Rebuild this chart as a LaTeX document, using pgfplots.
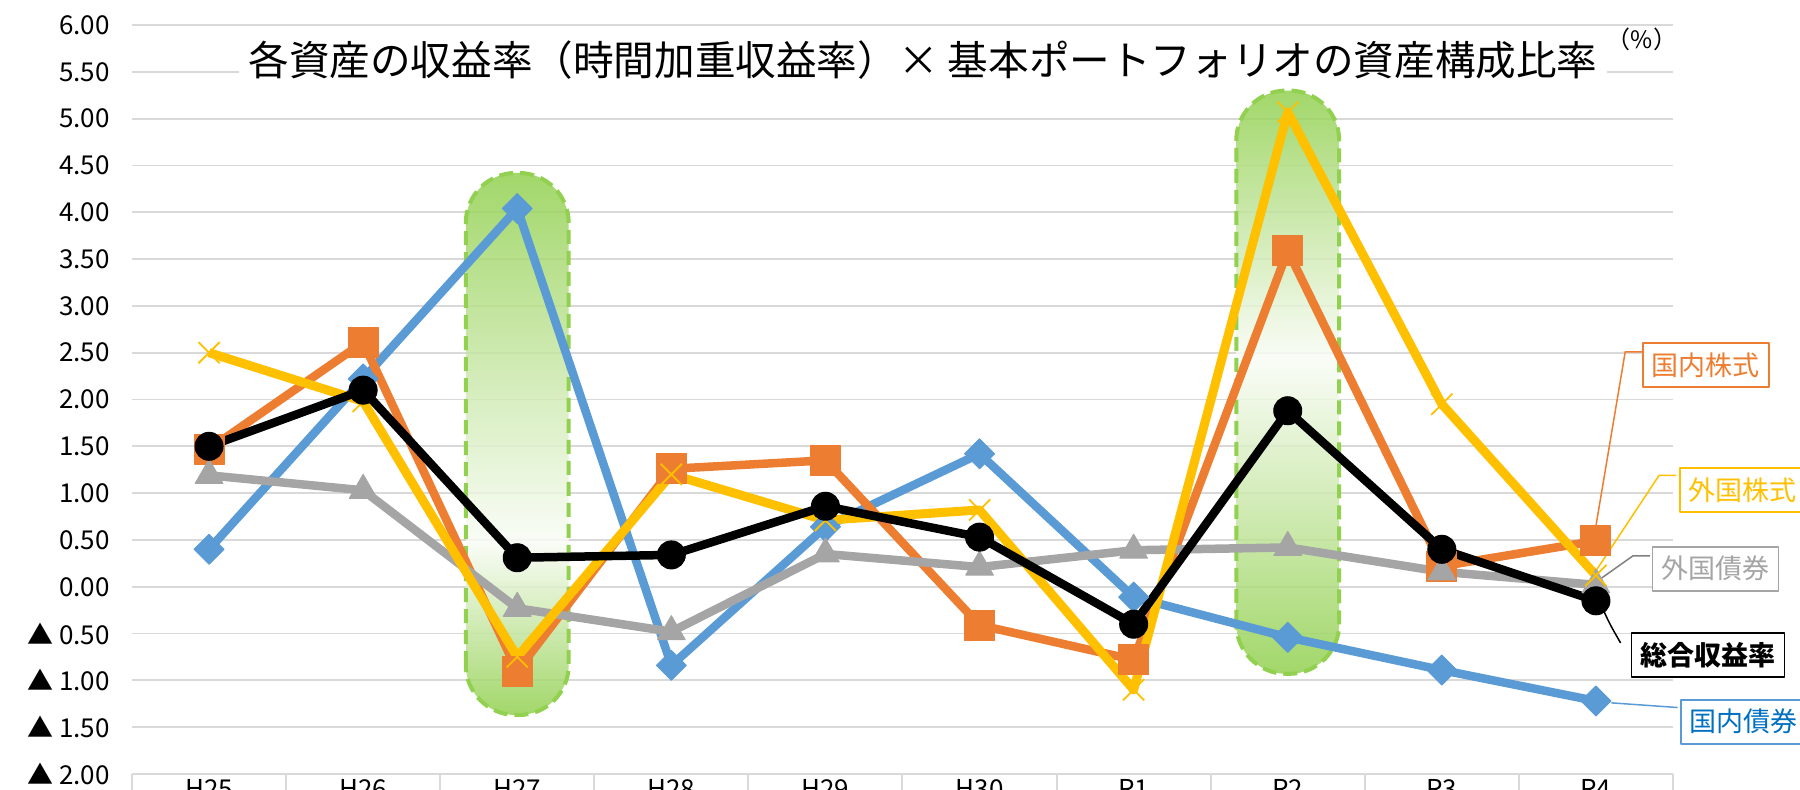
\documentclass[border=0pt]{standalone}
\usepackage{pgfplots}
\pgfplotsset{compat=1.18}
\usepackage{fontspec}
\setmainfont{Noto Sans CJK JP}
\definecolor{cblue}{HTML}{5B9BD5}
\definecolor{corange}{HTML}{ED7D31}
\definecolor{cgray}{HTML}{A5A5A5}
\definecolor{cyellow}{HTML}{FFC000}
\definecolor{cgrid}{HTML}{D9D9D9}
\definecolor{hg}{HTML}{92D050}
\definecolor{hw}{HTML}{F9FCF6}
\definecolor{cblue2}{HTML}{0070C0}
\definecolor{cleader}{HTML}{808080}
\pgfdeclareverticalshading{hlA}{100bp}{color(0bp)=(hg); color(25bp)=(hg); color(41bp)=(hw); color(75bp)=(hg); color(100bp)=(hg)}
\pgfdeclareverticalshading{hlB}{100bp}{color(0bp)=(hg); color(25bp)=(hg); color(52bp)=(hw); color(75bp)=(hg); color(100bp)=(hg)}
\begin{document}
\begin{tikzpicture}
\useasboundingbox (0,0) rectangle (900pt,394.5pt);
\clip (0,0) rectangle (900pt,394.5pt);
\begin{axis}[
  at={(66pt,7.5pt)}, anchor=south west,
  scale only axis, width=770.5pt, height=374.5pt,
  xmin=-0.5, xmax=9.5, ymin=-2, ymax=6,
  xtick={0,1,2,3,4,5,6,7,8,9},
  xticklabels={H25,H26,H27,H28,H29,H30,R1,R2,R3,R4},
  minor xtick={-0.5,0.5,1.5,2.5,3.5,4.5,5.5,6.5,7.5,8.5,9.5},
  ytick={-2,-1.5,-1,-0.5,0,0.5,1,1.5,2,2.5,3,3.5,4,4.5,5,5.5,6},
  yticklabels={▲ 2.00,▲ 1.50,▲ 1.00,▲ 0.50,0.00,0.50,1.00,1.50,2.00,2.50,3.00,3.50,4.00,4.50,5.00,5.50,6.00},
  ymajorgrids,
  major grid style={cgrid, line width=0.9pt},
  axis lines*=left,
  x axis line style={cgrid, line width=1.2pt},
  y axis line style={draw=none},
  tick align=outside,
  major tick length=0pt,
  minor tick length=20pt,
  xtick style={cgrid, line width=1pt},
  ytick style={draw=none},
  ticklabel style={font=\fontsize{13pt}{13pt}\selectfont, text=black},
  yticklabel style={inner sep=0pt, anchor=east, xshift=-11pt},
  xticklabel style={inner sep=0pt, anchor=north, yshift=-2.5pt},
  clip=false,
  line join=round,
]
% highlights
\shade[shading=hlA, opacity=0.85, rounded corners=25pt] (axis cs:1.666,-1.37) rectangle (axis cs:2.334,4.42);
\draw[hg, line width=2pt, dash pattern=on 7pt off 3.5pt, rounded corners=25pt] (axis cs:1.666,-1.37) rectangle (axis cs:2.334,4.42);
\shade[shading=hlB, opacity=0.85, rounded corners=25pt] (axis cs:6.666,-0.93) rectangle (axis cs:7.334,5.30);
\draw[hg, line width=2pt, dash pattern=on 7pt off 3.5pt, rounded corners=25pt] (axis cs:6.666,-0.93) rectangle (axis cs:7.334,5.30);

% 国内債券
\addplot[cblue, line width=4.25pt, mark=square*, mark size=5.3pt, mark options={rotate=45, solid, line width=0.5pt}] coordinates {
(0,0.40) (1,2.22) (2,4.04) (3,-0.84) (4,0.64) (5,1.42) (6,-0.11) (7,-0.54) (8,-0.89) (9,-1.22)};
% 国内株式
\addplot[corange, line width=4.25pt, mark=square*, mark size=7.5pt, mark options={solid, line width=0.5pt}] coordinates {
(0,1.47) (1,2.61) (2,-0.90) (3,1.26) (4,1.35) (5,-0.41) (6,-0.78) (7,3.59) (8,0.22) (9,0.49)};
% 外国債券
\addplot[cgray, line width=4.25pt, mark=triangle*, mark size=8pt, mark options={solid, line width=0.5pt}] coordinates {
(0,1.19) (1,1.03) (2,-0.23) (3,-0.48) (4,0.35) (5,0.21) (6,0.39) (7,0.42) (8,0.16) (9,0.02)};
% 外国株式
\addplot[cyellow, line width=4.5pt, mark=x, mark size=7.5pt, mark options={solid, line width=0.9pt}] coordinates {
(0,2.50) (1,1.98) (2,-0.75) (3,1.20) (4,0.71) (5,0.82) (6,-1.10) (7,5.07) (8,1.95) (9,0.12)};
% 総合収益率
\addplot[black, line width=4.25pt, mark=*, mark size=7pt, mark options={solid, line width=0.5pt}] coordinates {
(0,1.50) (1,2.10) (2,0.31) (3,0.34) (4,0.86) (5,0.53) (6,-0.40) (7,1.88) (8,0.40) (9,-0.15)};

% leaders
\draw[corange, line width=0.75pt] (axis cs:9,0.65) -- (axis cs:9.19,2.51) -- (axis cs:9.30,2.51);
\draw[cyellow, line width=0.75pt] (axis cs:9,0.17) -- (axis cs:9.41,1.19) -- (axis cs:9.52,1.19);
\draw[cleader, line width=0.75pt] (axis cs:9,0.05) -- (axis cs:9.24,0.33) -- (axis cs:9.35,0.33);
\draw[black, line width=0.75pt] (axis cs:9.04,-0.22) .. controls (axis cs:9.09,-0.40) .. (axis cs:9.16,-0.60);
\draw[cblue, line width=0.75pt] (axis cs:9.1,-1.24) -- (axis cs:9.53,-1.29);

% labels
\tikzset{lbl/.style={fill=white, line width=0.9pt, inner xsep=4.5pt, inner ysep=0pt, minimum height=22pt, font=\fontsize{13.5pt}{13.5pt}\selectfont}}
\node[lbl, draw=corange, text=corange] at (axis cs:9.714,2.368) {国内株式};
\node[lbl, draw=cyellow, text=cyellow] at (axis cs:9.954,1.032) {外国株式};
\node[lbl, draw=cgray, text=cgray] at (axis cs:9.776,0.193) {外国債券};
\node[lbl, draw=black, text=black, font=\fontsize{13.5pt}{13.5pt}\selectfont\bfseries] at (axis cs:9.727,-0.731) {総合収益率};
\node[lbl, draw=cblue, text=cblue2] at (axis cs:9.96,-1.441) {国内債券};
\end{axis}
\node[fill=white, inner xsep=5pt, inner ysep=2pt, font=\fontsize{20.3pt}{20.3pt}\selectfont] at (461.5pt,364.5pt) {各資産の収益率（時間加重収益率）× 基本ポートフォリオの資産構成比率};
\node[font=\fontsize{12pt}{12pt}\selectfont, inner sep=0pt] at (821pt,375pt) {（\%）};
\end{tikzpicture}
\end{document}
